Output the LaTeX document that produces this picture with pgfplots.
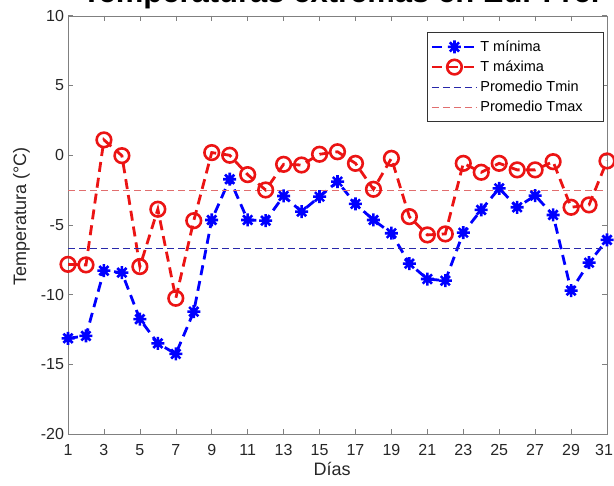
\documentclass[border=0pt]{standalone}
\usepackage{fontspec}
\setmainfont{Liberation Sans}
\usepackage{pgfplots}
\pgfplotsset{compat=1.18}

\pgfdeclareplotmark{ast8}{%
 \pgfpathmoveto{\pgfqpoint{-\pgfplotmarksize}{0pt}}\pgfpathlineto{\pgfqpoint{\pgfplotmarksize}{0pt}}%
 \pgfpathmoveto{\pgfqpoint{0pt}{-\pgfplotmarksize}}\pgfpathlineto{\pgfqpoint{0pt}{\pgfplotmarksize}}%
 \pgfpathmoveto{\pgfqpoint{-0.7071\pgfplotmarksize}{-0.7071\pgfplotmarksize}}\pgfpathlineto{\pgfqpoint{0.7071\pgfplotmarksize}{0.7071\pgfplotmarksize}}%
 \pgfpathmoveto{\pgfqpoint{-0.7071\pgfplotmarksize}{0.7071\pgfplotmarksize}}\pgfpathlineto{\pgfqpoint{0.7071\pgfplotmarksize}{-0.7071\pgfplotmarksize}}%
 \pgfusepathqstroke}

\definecolor{mblue}{RGB}{0,0,255}
\definecolor{mred}{RGB}{235,20,20}
\definecolor{avgblue}{RGB}{40,40,170}
\definecolor{avgred}{RGB}{225,110,110}

\begin{document}
\begin{tikzpicture}
\begin{axis}[
  scale only axis, width=539pt, height=418.6pt,
  xmin=1, xmax=31, ymin=-20, ymax=10,
  xtick={1,3,...,31},
  xticklabels={1,3,5,7,9,11,13,15,17,19,21,23,25,27,29,{\hspace*{-6pt}31}},
  ytick={-20,-15,-10,-5,0,5,10},
  yticklabels={-20,-15,-10,-5,0,5,10},
  tick align=inside, major tick length=5pt,
  axis line style={black!50},
  tick style={black!50, line width=0.6pt},
  tick label style={font=\fontsize{16}{16}\selectfont, text=black!85},
  xticklabel style={yshift=-6.5pt},
  yticklabel style={xshift=-0.5pt},
  title={Temperaturas extremas en Ed. Frei},
  title style={at={(axis description cs:0.506,1)}, anchor=base, yshift=7.4pt, font=\bfseries\fontsize{31}{31}\selectfont, inner sep=0pt},
  xlabel={Días},
  xlabel style={at={(axis description cs:0.49,0)}, anchor=north, yshift=-24.5pt, font=\fontsize{18}{18}\selectfont, text=black!85},
  ylabel={Temperatura (°C)},
  ylabel style={at={(axis description cs:0,0.52)}, anchor=center, yshift=46.5pt, font=\fontsize{18}{18}\selectfont, text=black!85},
  legend cell align=left,
  legend style={at={(axis description cs:0.9944,0.961)}, anchor=north east, font=\fontsize{14.5}{14.5}\selectfont, draw=black!80, line width=0.6pt, row sep=4pt, inner xsep=3pt, inner ysep=6.5pt},
  legend image code/.code={\draw[mark repeat=2, mark phase=2, #1] plot coordinates {(0pt,0pt) (22.5pt,0pt) (45pt,0pt)};},
]
\addplot[mblue, line width=2.8pt, dash pattern=on 10pt off 6pt, mark=ast8, mark size=6.5pt, mark options={solid, line width=2.6pt}] coordinates {
(1,-13.12) (2,-12.95) (3,-8.27) (4,-8.41) (5,-11.75) (6,-13.48) (7,-14.24) (8,-11.21) (9,-4.64) (10,-1.72)
(11,-4.64) (12,-4.69) (13,-2.92) (14,-4.04) (15,-2.97) (16,-1.89) (17,-3.49) (18,-4.64) (19,-5.59) (20,-7.77)
(21,-8.87) (22,-8.99) (23,-5.55) (24,-3.92) (25,-2.37) (26,-3.73) (27,-2.89) (28,-4.28) (29,-9.70) (30,-7.70) (31,-6.07)};
\addlegendentry{T mínima\hspace*{16pt}}
\addplot[mred, line width=2.8pt, dash pattern=on 10pt off 6pt, mark=o, mark size=7.3pt, mark options={solid, line width=2.6pt}] coordinates {
(1,-7.82) (2,-7.86) (3,1.10) (4,-0.03) (5,-7.98) (6,-3.87) (7,-10.25) (8,-4.69) (9,0.19) (10,0.0)
(11,-1.39) (12,-2.49) (13,-0.65) (14,-0.70) (15,0.07) (16,0.25) (17,-0.58) (18,-2.44) (19,-0.22) (20,-4.40)
(21,-5.71) (22,-5.64) (23,-0.58) (24,-1.22) (25,-0.58) (26,-1.05) (27,-1.05) (28,-0.46) (29,-3.73) (30,-3.56) (31,-0.41)};
\addlegendentry{T máxima}
\addplot[avgblue, line width=0.9pt, dash pattern=on 7pt off 4pt] coordinates {(1,-6.66) (31,-6.66)};
\addlegendentry{Promedio Tmin}
\addplot[avgred, line width=0.9pt, dash pattern=on 7pt off 4pt] coordinates {(1,-2.53) (31,-2.53)};
\addlegendentry{Promedio Tmax\hspace*{16pt}}
\end{axis}
\pgfresetboundingbox
\path[use as bounding box] ([shift={(-68pt,-50.7pt)}]current axis.south west) rectangle ([shift={(7pt,15.7pt)}]current axis.north east);
\end{tikzpicture}
\end{document}
